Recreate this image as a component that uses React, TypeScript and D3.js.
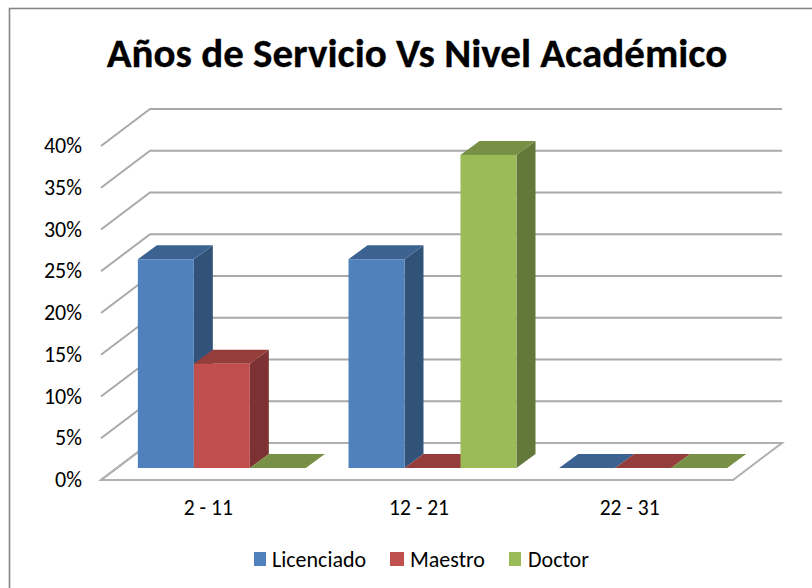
import React from "react";
import * as d3 from "d3";

const categories = ["2 - 11", "12 - 21", "22 - 31"];
const seriesNames = ["Licenciado", "Maestro", "Doctor"];
const licenciado = [25, 25, 0];
const maestro = [12.5, 0, 0];
const doctor = [0, 37.5, 0];
const yTicks = [0, 5, 10, 15, 20, 25, 30, 35, 40];
const frontColors = ["#4f81bd", "#c0504d", "#9bbb59"];
const sideColors = ["#325379", "#7b3230", "#64783a"];
const topColors = ["#3b6291", "#943c3a", "#779044"];

const title = "Años de Servicio Vs Nivel Académico";
const FONT = "Carlito, Calibri, 'Open Sans', 'Noto Sans', sans-serif";

const y = d3.scaleLinear().domain([0, 40]).range([480, 146]);
const x = d3.scaleBand<string>().domain(categories).range([101, 733]);
const barX = d3.scaleBand<string>().domain(seriesNames).range([0, 168]);
const wall = { dx: 49, dy: -37 };
const barPlane = { dx: 15.5, dy: -12 };
const barDepth = { dx: 19, dy: -14 };
const values = [licenciado, maestro, doctor];

const poly = (pts: number[][]) => d3.line()(pts as [number, number][]) + "Z";

export default function App() {
  const [x0, x1] = x.range();
  const y0 = y(0);
  return (
    <svg width={812} height={588} style={{ position: "absolute", left: 0, top: 0, background: "#fff" }} fontFamily={FONT}>
      <defs>
        <filter id="soft" x="-5%" y="-5%" width="110%" height="110%">
          <feGaussianBlur stdDeviation="0.45" />
        </filter>
      </defs>
      <rect x={9.5} y={8.5} width={830} height={610} fill="#fff" stroke="#868686" strokeWidth={1.6} />
      <text x={417} y={67} textAnchor="middle" fontSize={41} fontWeight={700} fill="#000" stroke="#000" strokeWidth={0.3}>{title}</text>
      <g filter="url(#soft)">
        {yTicks.map((t) => {
          const py = y(t);
          return (
            <path key={t} fill="none" stroke="#a9a9a9" strokeWidth={2}
              d={d3.line()([[x0, py], [x0 + wall.dx, py + wall.dy], [x1 + wall.dx, py + wall.dy]]) as string} />
          );
        })}
        <path fill="none" stroke="#b0b0b0" strokeWidth={2}
          d={poly([[x0, y0], [x1, y0], [x1 + wall.dx, y0 + wall.dy], [x0 + wall.dx, y0 + wall.dy]])} />
        {categories.map((c, ci) => {
          const bandLeft = (x(c) as number) + x.bandwidth() / 2 - barX.range()[1] / 2 + barPlane.dx;
          return (
            <g key={c}>
              {seriesNames.map((s, si) => {
                const v = values[si][ci];
                const left = bandLeft + (barX(s) as number);
                const right = left + barX.bandwidth();
                const bottom = y0 + barPlane.dy;
                const top = y(v) + barPlane.dy;
                const d = barDepth;
                return (
                  <g key={s}>
                    {v > 0 && <path fill={sideColors[si]} d={poly([[right, top], [right + d.dx, top + d.dy], [right + d.dx, bottom + d.dy], [right, bottom]])} />}
                    <path fill={topColors[si]} d={poly([[left, top], [left + d.dx, top + d.dy], [right + d.dx, top + d.dy], [right, top]])} />
                    {v > 0 && <rect x={left} y={top} width={right - left} height={bottom - top} fill={frontColors[si]} />}
                  </g>
                );
              })}
            </g>
          );
        })}
      </g>
      {yTicks.map((t) => (
        <text key={t} x={82} y={y(t) + 7} textAnchor="end" fontSize={22} fill="#000">{t}%</text>
      ))}
      {categories.map((c) => (
        <text key={c} x={(x(c) as number) + x.bandwidth() / 2 + 2} y={515} textAnchor="middle" fontSize={21.5} fill="#000">{c}</text>
      ))}
      {seriesNames.map((s, i) => {
        const lx = [254, 390, 509][i];
        const lw = [12, 14, 12][i];
        const tx = [272, 410, 528][i];
        return (
          <g key={s}>
            <rect x={lx} y={552} width={lw} height={14} fill={frontColors[i]} />
            <text x={tx} y={567} fontSize={22} fill="#000">{s}</text>
          </g>
        );
      })}
    </svg>
  );
}
